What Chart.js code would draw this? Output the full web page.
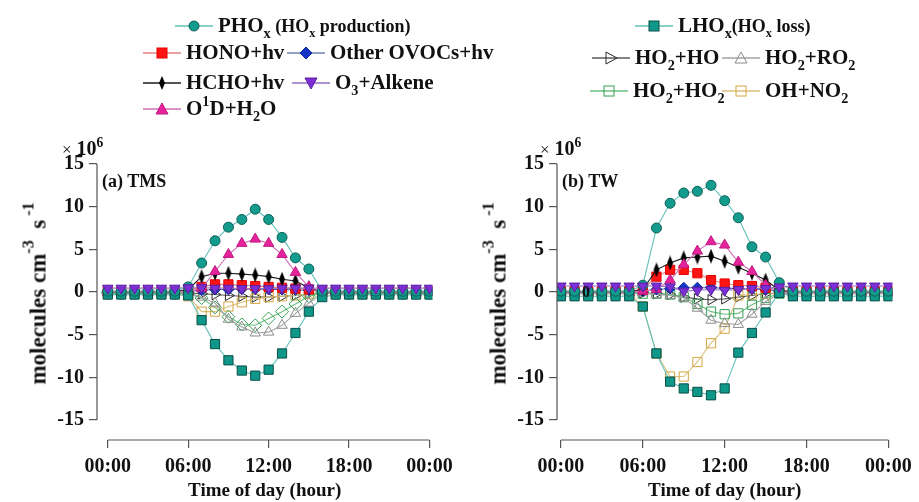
<!DOCTYPE html>
<html>
<head>
<meta charset="utf-8">
<script src="https://cdn.jsdelivr.net/npm/chart.js@4.4.0/dist/chart.umd.min.js"></script>
<style>
  body { margin: 0; background: #fff; }
  #wrap { position: relative; width: 919px; height: 502px; overflow: hidden;
          font-family: "Liberation Serif", "Times New Roman", serif; font-weight: bold; color: #111; }
  canvas { position: absolute; top: 0; }
  .lg { position: absolute; display: flex; align-items: center; white-space: nowrap; font-size: 21px; line-height: 1; }
  .lg svg { margin-right: 5px; }
  .lg small { font-size: 18px; }
  sub { font-size: 0.68em; vertical-align: -0.4em; line-height: 0; }
  sup { font-size: 0.68em; vertical-align: 0.6em; line-height: 0; }
  .txt { position: absolute; white-space: nowrap; line-height: 1; }
  .ytitle { position: absolute; width: 260px; text-align: center; font-size: 23px; line-height: 1;
            transform: rotate(-90deg); white-space: nowrap; }
  .ytitle sup { font-size: 0.7em; vertical-align: 0.75em; }
</style>
</head>
<body>
<div id="wrap">
  <canvas id="tms" width="460" height="502" style="left:0"></canvas>
  <canvas id="tw" width="459" height="502" style="left:460px"></canvas>

  <div class="txt" style="left:62px;top:138px;font-size:20px"><span style="font-size:17px;font-weight:normal">×</span> 10<sup>6</sup></div>
  <div class="txt" style="left:102px;top:172px;font-size:18px">(a) TMS</div>
  <div class="ytitle" style="left:-92px;top:282px">molecules cm<sup>-3</sup>&nbsp;&nbsp;s<sup>&nbsp;-1</sup></div>

  <div class="txt" style="left:540px;top:138px;font-size:20px"><span style="font-size:17px;font-weight:normal">×</span> 10<sup>6</sup></div>
  <div class="txt" style="left:562px;top:172px;font-size:18px">(b) TW</div>
  <div class="ytitle" style="left:368px;top:282px">molecules cm<sup>-3</sup>&nbsp;&nbsp;s<sup>&nbsp;-1</sup></div>
  <div class="txt" style="left:582px;top:284px;font-size:16px">0</div>
</div>

<script>
// hourly values, units of 10^6 molecules cm-3 s-1
const hours = [0,1,2,3,4,5,6,7,8,9,10,11,12,13,14,15,16,17,18,19,20,21,22,23,24];
const xTicks = [0, 6, 12, 18, 24];
const xTickLabels = ['00:00', '06:00', '12:00', '18:00', '00:00'];
const yTicks = [-15, -10, -5, 0, 5, 10, 15];

// (a) TMS
const tmsPHOx   = [0.1,0.1,0.1,0.1,0.1,0.1, 0.6,3.4,6.0,7.6,8.5,9.7,8.5,6.4,4.0,2.7,0.1, 0.1,0.1,0.1,0.1,0.1,0.1,0.1,0.1];
const tmsLHOx   = [-0.3,-0.3,-0.3,-0.3,-0.3,-0.3, -0.4,-3.3,-6.1,-8.0,-9.2,-9.8,-9.1,-7.2,-4.8,-2.3,-0.6, -0.3,-0.3,-0.3,-0.3,-0.3,-0.3,-0.3,-0.3];
const tmsHONO   = [0.1,0.1,0.1,0.1,0.1,0.1, 0.2,0.6,0.9,0.9,0.8,0.7,0.6,0.5,0.4,0.3,0.1, 0.1,0.1,0.1,0.1,0.1,0.1,0.1,0.1];
const tmsOVOC   = [0.05,0.05,0.05,0.05,0.05,0.05, 0.1,0.2,0.3,0.3,0.35,0.35,0.3,0.3,0.25,0.2,0.1, 0.05,0.05,0.05,0.05,0.05,0.05,0.05,0.05];
const tmsHCHO   = [0,0,0,0,0,0, 0.3,1.8,2.2,2.2,2.1,2.0,1.8,1.5,1.3,0.5,0, 0,0,0,0,0,0,0,0];
const tmsO3     = [0.45,0.45,0.45,0.45,0.45,0.45, 0.5,0.5,0.45,0.45,0.4,0.4,0.4,0.45,0.45,0.45,0.45, 0.45,0.45,0.45,0.45,0.45,0.45,0.45,0.45];
const tmsO1D    = [0,0,0,0,0,0, 0.1,0.4,2.4,4.4,5.7,6.2,5.7,4.4,2.3,0.6,0, 0,0,0,0,0,0,0,0];
const tmsHO2HO  = [-0.05,-0.05,-0.05,-0.05,-0.05,-0.05, -0.1,-0.2,-0.3,-0.4,-0.5,-0.6,-0.6,-0.5,-0.4,-0.2,-0.1, -0.05,-0.05,-0.05,-0.05,-0.05,-0.05,-0.05,-0.05];
const tmsHO2RO2 = [-0.05,-0.05,-0.05,-0.05,-0.05,-0.05, -0.1,-0.6,-1.3,-3.2,-4.1,-4.8,-4.7,-3.9,-2.5,-1.3,-0.2, -0.05,-0.05,-0.05,-0.05,-0.05,-0.05,-0.05,-0.05];
const tmsHO2HO2 = [-0.1,-0.1,-0.1,-0.1,-0.1,-0.1, -0.2,-0.7,-1.8,-2.9,-3.8,-3.9,-3.1,-2.3,-1.4,-0.5,-0.1, -0.1,-0.1,-0.1,-0.1,-0.1,-0.1,-0.1,-0.1];
const tmsOHNO2  = [-0.2,-0.2,-0.2,-0.2,-0.2,-0.2, -0.5,-2.3,-2.3,-1.7,-1.2,-0.8,-0.6,-0.5,-0.4,-0.2,-0.2, -0.2,-0.2,-0.2,-0.2,-0.2,-0.2,-0.2,-0.2];

// (b) TW
const twPHOx   = [0.1,0.1,0.1,0.1,0.1,0.1, 0.8,7.5,10.4,11.6,11.8,12.5,10.7,8.7,5.3,4.1,1.1, 0.1,0.1,0.1,0.1,0.1,0.1,0.1,0.1];
const twLHOx   = [-0.5,-0.5,-0.5,-0.5,-0.5,-0.5, -1.7,-7.2,-10.5,-11.3,-11.7,-12.1,-11.3,-7.1,-4.8,-2.4,-0.1, -0.5,-0.5,-0.5,-0.5,-0.5,-0.5,-0.5,-0.5];
const twHONO   = [0.1,0.1,0.1,0.1,0.1,0.1, 0.3,1.8,2.6,2.6,2.2,1.4,1.0,0.8,0.7,0.5,0.2, 0.1,0.1,0.1,0.1,0.1,0.1,0.1,0.1];
const twOVOC   = [0.05,0.05,0.05,0.05,0.05,0.05, 0.1,0.3,0.4,0.5,0.5,0.5,0.45,0.4,0.35,0.25,0.1, 0.05,0.05,0.05,0.05,0.05,0.05,0.05,0.05];
const twHCHO   = [0,0,0,0,0,0, 0.3,2.6,3.4,4.0,4.1,4.2,3.6,2.9,2.2,1.4,0.2, 0,0,0,0,0,0,0,0];
const twO3     = [0.7,0.7,0.7,0.7,0.7,0.7, 0.7,0.7,0.6,0.1,0.2,0.3,0.2,0.3,0.4,0.4,0.6, 0.7,0.7,0.7,0.7,0.7,0.7,0.7,0.7];
const twO1D    = [0,0,0,0,0,0, 0.1,0.3,1.4,3.2,4.8,5.9,5.5,3.5,2.4,0.8,0, 0,0,0,0,0,0,0,0];
const twHO2HO  = [-0.05,-0.05,-0.05,-0.05,-0.05,-0.05, -0.1,-0.2,-0.3,-0.6,-0.8,-0.9,-0.8,-0.6,-0.4,-0.2,-0.1, -0.05,-0.05,-0.05,-0.05,-0.05,-0.05,-0.05,-0.05];
const twHO2RO2 = [-0.1,-0.1,-0.1,-0.1,-0.1,-0.1, -0.1,-0.3,-0.4,-0.7,-1.9,-3.3,-3.7,-3.8,-2.6,-1.1,-0.2, -0.1,-0.1,-0.1,-0.1,-0.1,-0.1,-0.1,-0.1];
const twHO2HO2 = [-0.2,-0.2,-0.2,-0.2,-0.2,-0.2, -0.2,-0.2,-0.3,-0.6,-1.4,-2.3,-2.6,-2.5,-1.5,-0.7,-0.2, -0.2,-0.2,-0.2,-0.2,-0.2,-0.2,-0.2,-0.2];
const twOHNO2  = [-0.1,-0.1,-0.1,-0.1,-0.1,-0.1, -1.7,-7.2,-9.9,-9.9,-8.2,-6.0,-4.3,-0.4,-0.3,-0.2,-0.1, -0.1,-0.1,-0.1,-0.1,-0.1,-0.1,-0.1,-0.1];

// marker / line look of each term
const styles = {
  PHOx:   { line: '#62c1b9', fill: '#139c8d', edge: '#0b5f56', shape: 'circle',   r: 5 },
  LHOx:   { line: '#62c1b9', fill: '#0f988a', edge: '#0a4e47', shape: 'rect',     r: 6.5 },
  HONO:   { line: '#e08080', fill: '#ff1414', edge: '#e60000', shape: 'rect',     r: 6.5 },
  OVOC:   { line: '#7080b0', fill: '#1434c8', edge: '#0b2a9c', shape: 'rectRot',  r: 5.5 },
  HCHO:   { line: '#1a1a1a', fill: '#000000', edge: '#000000', shape: 'thin',     r: 7 },
  O3:     { line: '#9270c2', fill: '#7d2fd6', edge: '#5a1fa0', shape: 'triDown',  r: 6 },
  O1D:    { line: '#d070b8', fill: '#e6239c', edge: '#c01a80', shape: 'triangle', r: 6 },
  HO2HO:  { line: '#5a5a5a', fill: null,      edge: '#2a2a2a', shape: 'triRight', r: 6 },
  HO2RO2: { line: '#a4a4a4', fill: null,      edge: '#8c8c8c', shape: 'triangle', r: 6 },
  HO2HO2: { line: '#6cbf80', fill: null,      edge: '#38a055', shape: 'rect',     r: 6.5 },
  OHNO2:  { line: '#dcc07c', fill: null,      edge: '#d4a640', shape: 'rect',     r: 6.5 }
};

// vertical thin diamond used for HCHO+hv
const thinDiamond = document.createElement('canvas');
thinDiamond.width = 8; thinDiamond.height = 15;
(function () {
  const c = thinDiamond.getContext('2d');
  c.fillStyle = '#000';
  c.beginPath(); c.moveTo(4, 0); c.lineTo(7, 7.5); c.lineTo(4, 15); c.lineTo(1, 7.5); c.closePath(); c.fill();
})();

function pointLook(st, shapeOverride) {
  const shape = shapeOverride || st.shape;
  let pointStyle = shape, rot = 0;
  if (shape === 'triDown') { pointStyle = 'triangle'; rot = 180; }
  if (shape === 'triRight') { pointStyle = 'triangle'; rot = 90; }
  if (shape === 'thin') pointStyle = thinDiamond;
  return {
    pointStyle: pointStyle,
    rotation: rot,
    pointRadius: st.r,
    pointBackgroundColor: st.fill || 'rgba(255,255,255,0)',
    pointBorderColor: st.edge,
    pointBorderWidth: 1
  };
}

function series(key, values, shapeOverride) {
  const st = styles[key];
  const pl = pointLook(st, shapeOverride);
  return Object.assign({
    label: key,
    data: hours.map((h, i) => ({ x: h, y: values[i] })),
    borderColor: st.line,
    borderWidth: 1.1,
    tension: 0,
    fill: false
  }, pl);
}

const axisLines = {
  id: 'axisLines',
  afterDraw(chart) {
    const { ctx, chartArea: a, scales: { x, y } } = chart;
    ctx.save();
    ctx.strokeStyle = '#555';
    ctx.lineWidth = 1.2;
    ctx.beginPath();
    ctx.moveTo(a.left, y.getPixelForValue(15));
    ctx.lineTo(a.left, y.getPixelForValue(-15));
    ctx.moveTo(x.getPixelForValue(0), a.bottom);
    ctx.lineTo(x.getPixelForValue(24), a.bottom);
    ctx.stroke();
    ctx.restore();
  }
};

const tickFont = { family: '"Liberation Serif", "Times New Roman", serif', size: 20, weight: 'bold' };

function buildChart(id, datasets, geo) {
  return new Chart(document.getElementById(id), {
    type: 'line',
    data: { datasets: datasets },
    options: {
      responsive: false,
      animation: false,
      events: [],
      layout: { padding: { top: geo.top, right: geo.right, left: 0, bottom: 0 } },
      plugins: { legend: { display: false }, tooltip: { enabled: false } },
      scales: {
        x: {
          type: 'linear', min: geo.xmin, max: geo.xmax,
          afterBuildTicks: s => { s.ticks = xTicks.map(v => ({ value: v })); },
          afterFit: s => { s.height = geo.xh; },
          ticks: { callback: v => xTickLabels[xTicks.indexOf(v)], font: tickFont, color: '#111',
                   padding: 7, maxRotation: 0, autoSkip: false },
          grid: { drawOnChartArea: false, tickLength: 8, color: '#555', lineWidth: 1.2 },
          border: { display: false },
          title: { display: true, text: 'Time of day (hour)', color: '#111', padding: 0,
                   font: { family: tickFont.family, size: 19, weight: 'bold' } }
        },
        y: {
          type: 'linear', min: geo.ymin, max: 15,
          afterBuildTicks: s => { s.ticks = yTicks.map(v => ({ value: v })); },
          afterFit: s => { s.width = geo.yw; },
          ticks: { font: tickFont, color: '#111', padding: 5 },
          grid: { drawOnChartArea: false, tickLength: 8, color: '#555', lineWidth: 1.2 },
          border: { display: false }
        }
      }
    },
    plugins: [axisLines]
  });
}

buildChart('tms', [
  series('O3', tmsO3), series('PHOx', tmsPHOx), series('LHOx', tmsLHOx), series('O1D', tmsO1D), series('HCHO', tmsHCHO),
  series('HONO', tmsHONO), series('OVOC', tmsOVOC),
  series('HO2RO2', tmsHO2RO2), series('HO2HO2', tmsHO2HO2, 'rectRot'), series('OHNO2', tmsOHNO2), series('HO2HO', tmsHO2HO)
], { top: 164, right: 21, yw: 97, xh: 62, xmin: -0.805, xmax: 24.22, ymin: -17.34 });

buildChart('tw', [
  series('O3', twO3), series('PHOx', twPHOx), series('LHOx', twLHOx), series('O1D', twO1D), series('HCHO', twHCHO),
  series('HONO', twHONO), series('OVOC', twOVOC),
  series('HO2RO2', twHO2RO2), series('HO2HO2', twHO2HO2), series('OHNO2', twOHNO2), series('HO2HO', twHO2HO)
], { top: 164, right: 22, yw: 97, xh: 62, xmin: -0.289, xmax: 24.29, ymin: -17.34 });

// legends, as HTML so sub/superscripts stay real text
const legendItems = [
  { key: 'PHOx',   x: 175, y: 25,  html: 'PHO<sub>x</sub><small>&nbsp;(HO<sub>x</sub> production)</small>' },
  { key: 'HONO',   x: 143, y: 52,  html: 'HONO+hv' },
  { key: 'OVOC',   x: 287, y: 52,  html: 'Other OVOCs+hv' },
  { key: 'HCHO',   x: 143, y: 82,  html: 'HCHO+hv' },
  { key: 'O3',     x: 292, y: 82,  html: 'O<sub>3</sub>+Alkene' },
  { key: 'O1D',    x: 143, y: 108, html: 'O<sup>1</sup>D+H<sub>2</sub>O' },
  { key: 'LHOx',   x: 635, y: 25,  html: 'LHO<sub>x</sub><small>(HO<sub>x</sub> loss)</small>' },
  { key: 'HO2HO',  x: 592, y: 57,  html: 'HO<sub>2</sub>+HO' },
  { key: 'HO2RO2', x: 722, y: 57,  html: 'HO<sub>2</sub>+RO<sub>2</sub>' },
  { key: 'HO2HO2', x: 590, y: 90,  html: 'HO<sub>2</sub>+HO<sub>2</sub>' },
  { key: 'OHNO2',  x: 722, y: 90,  html: 'OH+NO<sub>2</sub>' }
];

function markerSVG(st) {
  const w = 38, h = 16, cx = 19, cy = 8;
  const f = st.fill || 'none', s = st.edge;
  let shape = '';
  switch (st.shape) {
    case 'circle':   shape = `<circle cx="${cx}" cy="${cy}" r="5" fill="${f}" stroke="${s}"/>`; break;
    case 'rect':     shape = `<rect x="${cx - 5}" y="${cy - 5}" width="10" height="10" fill="${f}" stroke="${s}"/>`; break;
    case 'rectRot':  shape = `<polygon points="${cx},${cy - 6} ${cx + 6},${cy} ${cx},${cy + 6} ${cx - 6},${cy}" fill="${f}" stroke="${s}"/>`; break;
    case 'thin':     shape = `<polygon points="${cx},${cy - 7} ${cx + 3},${cy} ${cx},${cy + 7} ${cx - 3},${cy}" fill="${f}"/>`; break;
    case 'triangle': shape = `<polygon points="${cx},${cy - 6} ${cx + 6},${cy + 5} ${cx - 6},${cy + 5}" fill="${f}" stroke="${s}"/>`; break;
    case 'triDown':  shape = `<polygon points="${cx - 6},${cy - 5} ${cx + 6},${cy - 5} ${cx},${cy + 6}" fill="${f}" stroke="${s}"/>`; break;
    case 'triRight': shape = `<polygon points="${cx - 5},${cy - 6} ${cx + 6},${cy} ${cx - 5},${cy + 6}" fill="${f}" stroke="${s}"/>`; break;
  }
  return `<svg width="${w}" height="${h}"><line x1="0" y1="${cy}" x2="${w}" y2="${cy}" stroke="${st.line}" stroke-width="1.3"/>${shape}</svg>`;
}

const wrap = document.getElementById('wrap');
legendItems.forEach(it => {
  const d = document.createElement('div');
  d.className = 'lg';
  d.style.left = it.x + 'px';
  d.style.top = (it.y - 10) + 'px';
  d.innerHTML = markerSVG(styles[it.key]) + '<span>' + it.html + '</span>';
  wrap.appendChild(d);
});
</script>
</body>
</html>
